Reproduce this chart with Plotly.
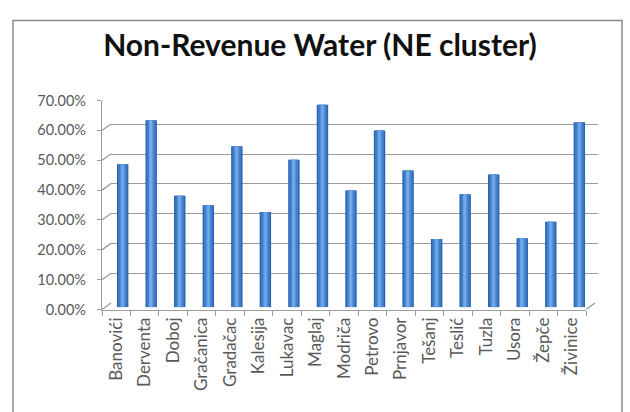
import plotly.graph_objects as go

# Non-revenue water share per utility (percent)
municipalities = ["Banovići", "Derventa", "Doboj", "Gračanica", "Gradačac", "Kalesija",
                  "Lukavac", "Maglaj", "Modriča", "Petrovo", "Prnjavor", "Tešanj",
                  "Teslić", "Tuzla", "Usora", "Žepče", "Živinice"]
nrw_percent = [47.9, 62.6, 37.3, 34.1, 53.9, 31.9, 49.4, 67.8, 39.1, 59.2, 45.8, 22.8,
               37.8, 44.4, 23.1, 28.6, 61.9]
y_ticks = [0, 10, 20, 30, 40, 50, 60, 70]

W, H = 630, 412
FONT = "Lato"
GRID = "#9c9c9c"
TEXT = "#595959"


def px_x(a, b):
    return [a / W, b / W]


def px_y(bottom, top):
    return [1 - bottom / H, 1 - top / H]


fig = go.Figure()
n = len(municipalities)
idx = list(range(n))

# Back wall (x/y) carries the horizontal gridlines
fig.add_trace(go.Scatter(x=[0], y=[0], xaxis="x", yaxis="y", mode="markers",
                         marker_opacity=0, showlegend=False, hoverinfo="skip"))
# Front axes (x2/y2) carry the tick labels
fig.add_trace(go.Scatter(x=municipalities, y=[0] * n, xaxis="x2", yaxis="y2",
                         mode="markers", marker_opacity=0, showlegend=False,
                         hoverinfo="skip"))
# Columns (x3/y3): dark rim, main fill and a light highlight for a rounded look
for width, color in [(0.4, "#2c62aa"), (0.31, "#3d7dca"), (0.17, "#5592dc"), (0.06, "#78aae6")]:
    fig.add_trace(go.Bar(x=idx, y=nrw_percent, width=width, marker_color=color,
                         marker_line_width=0, xaxis="x3", yaxis="y3",
                         hoverinfo="skip", showlegend=False))

fig.update_layout(
    width=W, height=H,
    margin=dict(l=0, r=0, t=0, b=0),
    paper_bgcolor="white", plot_bgcolor="rgba(0,0,0,0)",
    barmode="overlay",
    title=dict(text="<b>Non-Revenue Water (NE cluster)</b>",
               font=dict(family=FONT, size=30, color="#111111"),
               x=320 / W, xanchor="center", y=1 - 45 / H, yanchor="middle"),
    # back wall
    xaxis=dict(domain=px_x(111, 598), range=[-0.5, n - 0.5], visible=False,
               anchor="y"),
    yaxis=dict(domain=px_y(307, 89), range=[0, 70], anchor="x",
               showgrid=True, gridcolor=GRID, gridwidth=1.3, tickvals=y_ticks,
               showticklabels=False, zeroline=False, showline=False, ticks=""),
    # front axes with labels
    xaxis2=dict(domain=px_x(102, 586), type="category", anchor="y2",
                categoryorder="array", categoryarray=municipalities,
                range=[-0.5, n - 0.5], showgrid=False, showline=True, linecolor=GRID,
                linewidth=1.3, ticks="outside", ticklen=5, tickcolor=GRID,
                tickson="boundaries", tickangle=-90,
                tickfont=dict(family=FONT, size=17, color=TEXT)),
    yaxis2=dict(domain=px_y(313.5, 95.5), range=[0, 70], anchor="x2",
                tickvals=y_ticks, ticktext=[f"{v:.2f}%" for v in y_ticks],
                showgrid=False, zeroline=False, showline=True, linecolor=GRID,
                linewidth=1.3, ticks="outside", ticklen=4, tickcolor=GRID,
                ticklabelstandoff=8,
                tickfont=dict(family=FONT, size=14.5, color=TEXT)),
    # columns
    xaxis3=dict(domain=px_x(108.4, 593.6), range=[-0.5, n - 0.5], visible=False,
                anchor="y3"),
    yaxis3=dict(domain=px_y(311, 93), range=[0, 70], visible=False, anchor="x3"),
)

# Depth connectors from the front axis to the back wall
shapes = []
for v in y_ticks:
    shapes.append(dict(type="line", xref="x2 domain", xsizemode="pixel", xanchor=0,
                       x0=0, x1=9, yref="y2", ysizemode="pixel", yanchor=v,
                       y0=0, y1=6.5, line=dict(color=GRID, width=1.3)))
shapes.append(dict(type="line", xref="x2 domain", xsizemode="pixel", xanchor=1,
                   x0=0, x1=9, yref="y2", ysizemode="pixel", yanchor=0,
                   y0=0, y1=6.5, line=dict(color=GRID, width=1.3)))
# Chart frame
shapes.append(dict(type="rect", xref="paper", yref="paper",
                   x0=13 / W, x1=622 / W, y0=-0.05, y1=1 - 12 / H,
                   line=dict(color="#8a8a8a", width=1.5), fillcolor="rgba(0,0,0,0)",
                   layer="below"))
fig.update_layout(shapes=shapes)

fig.write_html("out.html")
